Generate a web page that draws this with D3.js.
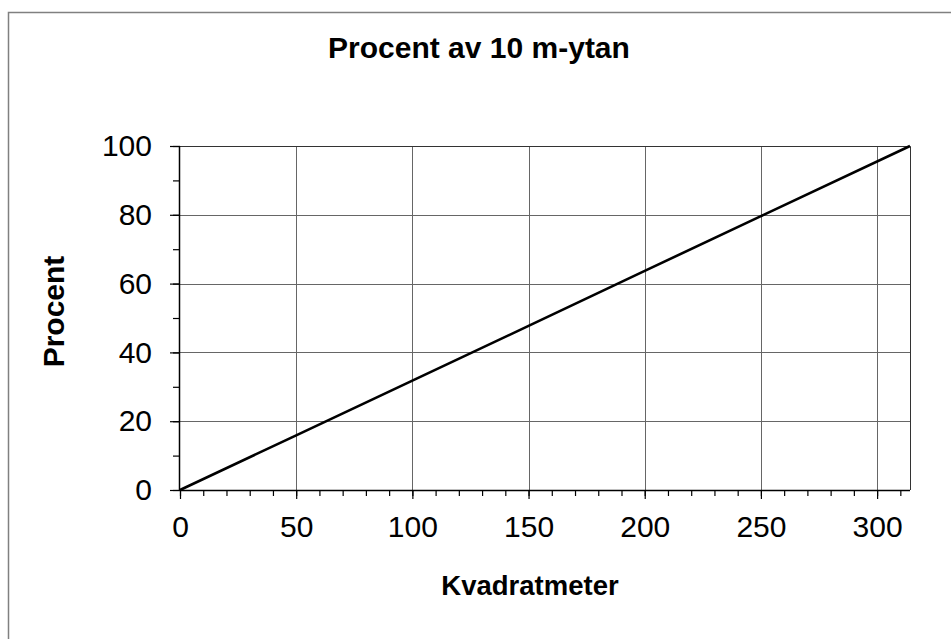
<!DOCTYPE html>
<html>
<head>
<meta charset="utf-8">
<script src="https://cdn.jsdelivr.net/npm/d3@7"></script>
<style>
  html, body { margin: 0; padding: 0; background: #fff; }
  svg { display: block; font-family: Arial, "Liberation Sans", sans-serif; }
</style>
</head>
<body>
<svg id="chart" width="951" height="639"></svg>
<script>
// Share of the 10 m circle area (314.16 m²) covered by a given number of square metres
const kvadratmeter = [0, 50, 100, 150, 200, 250, 314.16];
const procent      = [0, 15.9, 31.8, 47.7, 63.7, 79.6, 100];
const xTicks = [0, 50, 100, 150, 200, 250, 300];
const yTicks = [0, 20, 40, 60, 80, 100];
const xMinor = d3.range(0, 315, 10);
const yMinor = d3.range(0, 101, 10);

const titleText = "Procent av 10 m-ytan";
const xTitle = "Kvadratmeter";
const yTitle = "Procent";

const svg = d3.select("#chart");
const plot = { left: 180, right: 910, top: 146, bottom: 490 };

const x = d3.scaleLinear().domain([0, 314.16]).range([plot.left, plot.right]);
const y = d3.scaleLinear().domain([0, 100]).range([plot.bottom, plot.top]);

// Outer chart frame
svg.append("rect")
  .attr("x", 8.5).attr("y", 12.5)
  .attr("width", 960).attr("height", 660)
  .attr("fill", "#fff")
  .attr("stroke", "#808080").attr("stroke-width", 1.5);

// Gridlines
svg.append("g").selectAll("line").data(xTicks.filter(d => d > 0)).join("line")
  .attr("x1", d => Math.round(x(d)) + 0.5).attr("x2", d => Math.round(x(d)) + 0.5)
  .attr("y1", plot.top).attr("y2", plot.bottom)
  .attr("stroke", "#666").attr("stroke-width", 1);
svg.append("g").selectAll("line").data(yTicks.filter(d => d > 0)).join("line")
  .attr("x1", plot.left).attr("x2", plot.right)
  .attr("y1", d => Math.round(y(d)) + 0.5).attr("y2", d => Math.round(y(d)) + 0.5)
  .attr("stroke", "#666").attr("stroke-width", 1);

// Plot border (top and right)
svg.append("path")
  .attr("d", `M${plot.left},${plot.top + 0.5}H${plot.right + 0.5}V${plot.bottom}`)
  .attr("fill", "none").attr("stroke", "#333").attr("stroke-width", 1);

// Axes
const xAxis = svg.append("g").attr("transform", `translate(0,${plot.bottom})`);
xAxis.call(d3.axisBottom(x).tickValues(xMinor).tickSize(6).tickFormat(""));
xAxis.call(g => g.select(".domain").remove());
const xMajor = svg.append("g").attr("transform", `translate(0,${plot.bottom})`)
  .call(d3.axisBottom(x).tickValues(xTicks).tickSize(9).tickPadding(17).tickSizeOuter(0).tickFormat(d3.format("d")));
xMajor.select(".domain").attr("d", `M${plot.left},0.5H${plot.right}`).attr("stroke-width", 1.5);
xMajor.selectAll("text").attr("font-size", 30).attr("fill", "#000").attr("dy", "0.71em");

const yAxis = svg.append("g").attr("transform", `translate(${plot.left},0)`);
yAxis.call(d3.axisLeft(y).tickValues(yMinor).tickSize(7).tickFormat(""));
yAxis.call(g => g.select(".domain").remove());
const yMajor = svg.append("g").attr("transform", `translate(${plot.left},0)`)
  .call(d3.axisLeft(y).tickValues(yTicks).tickSize(10).tickPadding(18).tickSizeOuter(0).tickFormat(d3.format("d")));
yMajor.select(".domain").attr("d", `M-0.5,${plot.bottom}V${plot.top}`).attr("stroke-width", 1.5);
yMajor.selectAll("text").attr("font-size", 30).attr("fill", "#000");

svg.selectAll(".tick line").attr("stroke", "#000").attr("stroke-width", 1.2);

// Data line
const line = d3.line().x(d => x(d[0])).y(d => y(d[1]));
svg.append("path")
  .datum(kvadratmeter.map((k, i) => [k, procent[i]]))
  .attr("d", line)
  .attr("fill", "none").attr("stroke", "#000").attr("stroke-width", 2.6);

// Titles
svg.append("text").attr("x", 479).attr("y", 58)
  .attr("text-anchor", "middle").attr("font-size", 30).attr("font-weight", "bold")
  .text(titleText);
svg.append("text").attr("x", 530).attr("y", 595)
  .attr("text-anchor", "middle").attr("font-size", 27.5).attr("font-weight", "bold")
  .text(xTitle);
svg.append("text").attr("transform", "translate(64,311.5) rotate(-90)")
  .attr("text-anchor", "middle").attr("font-size", 30).attr("font-weight", "bold")
  .text(yTitle);
</script>
</body>
</html>
